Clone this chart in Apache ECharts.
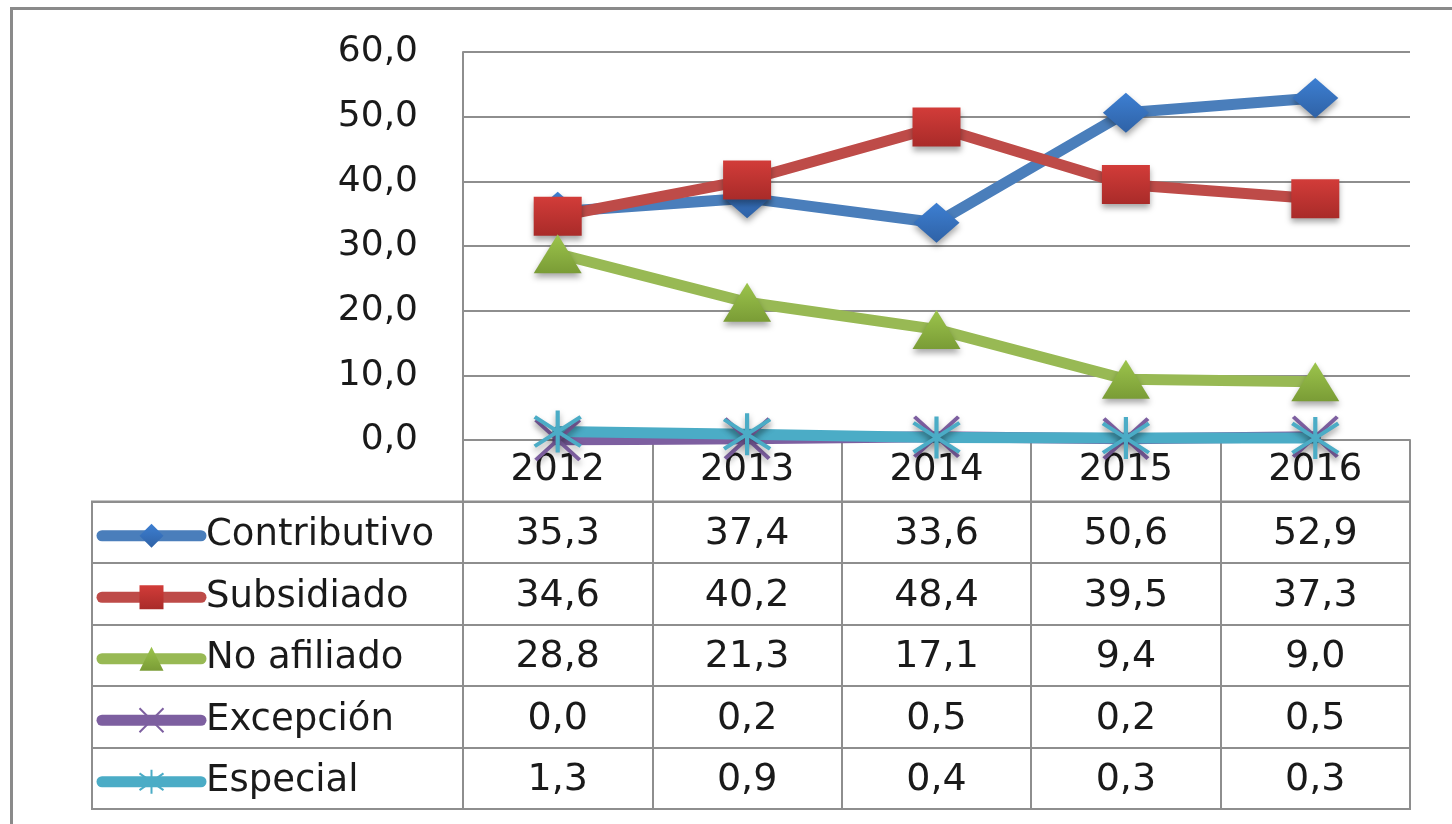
<!DOCTYPE html>
<html>
<head>
<meta charset="UTF-8">
<title></title>
<script src="https://cdn.jsdelivr.net/npm/echarts@6/dist/echarts.min.js"></script>
<style>
  html, body { margin: 0; padding: 0; background: #fff; }
  #marco { position: absolute; left: 10px; top: 7px; width: 1460px; height: 840px;
           border-left: 3px solid #8a8a8a; border-top: 3px solid #8a8a8a; }
  #main { position: absolute; left: 0; top: 0; width: 1452px; height: 824px; }
</style>
</head>
<body>
<div id="marco"></div>
<div id="main"></div>
<script type="text/javascript">
// datos
var years = ['2012', '2013', '2014', '2015', '2016'];
var contributivo = [35.3, 37.4, 33.6, 50.6, 52.9];
var subsidiado = [34.6, 40.2, 48.4, 39.5, 37.3];
var noAfiliado = [28.8, 21.3, 17.1, 9.4, 9.0];
var excepcion = [0.0, 0.2, 0.5, 0.2, 0.5];
var especial = [1.3, 0.9, 0.4, 0.3, 0.3];
var nombres = ['Contributivo', 'Subsidiado', 'No afiliado', 'Excepción', 'Especial'];
var valores = [contributivo, subsidiado, noAfiliado, excepcion, especial];

var gris = '#8e8e8e';
var fuente = 'DejaVu Sans';
function coma(v) { return Number(v).toFixed(1).replace('.', ','); }

var sombra = { shadowBlur: 6, shadowOffsetY: 4, shadowColor: 'rgba(0,0,0,0.35)' };
function grad(a, b) {
  return new echarts.graphic.LinearGradient(0, 0, 0, 1, [{ offset: 0, color: a }, { offset: 1, color: b }]);
}

// estilo de cada serie
var estilos = [
  { line: '#4a7ebb', symbol: 'diamond', size: [46, 40], fill: grad('#3d7fd2', '#2f62a6') },
  { line: '#be4b48', symbol: 'rect', size: [48, 39], fill: grad('#d23c39', '#a92b29') },
  { line: '#98b954', symbol: 'triangle', size: [48, 39], fill: grad('#9cc44c', '#7a9c36') },
  { line: '#7d5fa0', symbol: 'path://M0,0L10,10M10,0L0,10', size: [44, 40], fill: '#7d5fa0' },
  { line: '#4bacc6', symbol: 'path://M5,0L5,10M0,1.5L10,8.5M10,1.5L0,8.5', size: [46, 42], fill: '#4bacc6' }
];

var series = [];
for (var i = 0; i < nombres.length; i++) {
  var e = estilos[i];
  var path = i >= 3;
  series.push({
    name: nombres[i],
    type: 'line',
    xAxisIndex: 0,
    yAxisIndex: 0,
    data: valores[i],
    symbol: e.symbol,
    symbolSize: e.size,
    showAllSymbol: true,
    lineStyle: { color: e.line, width: 11, cap: 'round', join: 'round' },
    itemStyle: Object.assign({
      color: e.fill,
      borderColor: path ? e.line : 'transparent',
      borderWidth: path ? 4 : 0
    }, sombra)
  });
}

// texto de la tabla
var celdas = [];
for (var r = 0; r < nombres.length; r++) {
  for (var c = 0; c < years.length; c++) {
    celdas.push([years[c], nombres[r], valores[r][c]]);
  }
}
series.push({
  name: 'tabla',
  type: 'scatter',
  xAxisIndex: 1,
  yAxisIndex: 1,
  symbolSize: 0,
  silent: true,
  itemStyle: { opacity: 1 },
  label: {
    show: true,
    position: 'inside',
    offset: [0, 2],
    color: '#1a1a1a',
    fontFamily: fuente,
    fontSize: 38,
    formatter: function (p) { return coma(p.value[2]); }
  },
  data: celdas
});

// una leyenda por fila de la tabla
var tablaTop = 501.5, filaAlto = 61.5;
var leyendas = nombres.map(function (n, k) {
  return {
    orient: 'vertical',
    left: 96.5,
    top: tablaTop + filaAlto * k + filaAlto / 2 - 15,
    padding: 0,
    itemWidth: 99,
    itemHeight: 30,
    data: [n],
    selectedMode: false,
    lineStyle: { width: 11, cap: 'round' },
    textStyle: { fontFamily: fuente, fontSize: 37, lineHeight: 30, color: '#1a1a1a' }
  };
});

var myChart = echarts.init(document.getElementById('main'));
var option = {
  animation: false,
  backgroundColor: 'transparent',
  grid: [
    { left: 463, top: 52, width: 947, height: 388 },
    { left: 463, top: tablaTop, width: 947, height: filaAlto * 5, show: true, borderColor: gris, borderWidth: 2 },
    { left: 92, top: tablaTop, width: 371, height: filaAlto * 5, show: true, borderColor: gris, borderWidth: 2 }
  ],
  legend: leyendas,
  xAxis: [
    {
      gridIndex: 0,
      type: 'category',
      data: years,
      boundaryGap: true,
      axisLine: { lineStyle: { color: gris, width: 2 } },
      axisTick: { show: true, interval: 0, length: 61, lineStyle: { color: gris, width: 2 } },
      axisLabel: { margin: 12, fontFamily: fuente, fontSize: 37, color: '#1a1a1a' },
      splitLine: { show: false }
    },
    {
      gridIndex: 1,
      type: 'category',
      data: years,
      axisLine: { show: false },
      axisTick: { show: false },
      axisLabel: { show: false },
      splitLine: { show: true, interval: 0, lineStyle: { color: gris, width: 2 } }
    },
    {
      gridIndex: 2,
      type: 'category',
      data: [''],
      axisLine: { show: false },
      axisTick: { show: false },
      axisLabel: { show: false }
    }
  ],
  yAxis: [
    {
      gridIndex: 0,
      type: 'value',
      min: 0,
      max: 60,
      interval: 10,
      axisLine: { show: true, lineStyle: { color: gris, width: 2 } },
      axisTick: { show: false },
      axisLabel: { margin: 45, fontFamily: fuente, fontSize: 36, color: '#1a1a1a', formatter: coma },
      splitLine: { show: true, lineStyle: { color: gris, width: 2 } }
    },
    {
      gridIndex: 1,
      type: 'category',
      data: nombres,
      inverse: true,
      axisLine: { show: false },
      axisTick: { show: false },
      axisLabel: { show: false },
      splitLine: { show: true, interval: 0, lineStyle: { color: gris, width: 2 } }
    },
    {
      gridIndex: 2,
      type: 'category',
      data: nombres,
      inverse: true,
      axisLine: { show: false },
      axisTick: { show: false },
      axisLabel: { show: false },
      splitLine: { show: true, interval: 0, lineStyle: { color: gris, width: 2 } }
    }
  ],
  series: series
};
myChart.setOption(option);
</script>
</body>
</html>
